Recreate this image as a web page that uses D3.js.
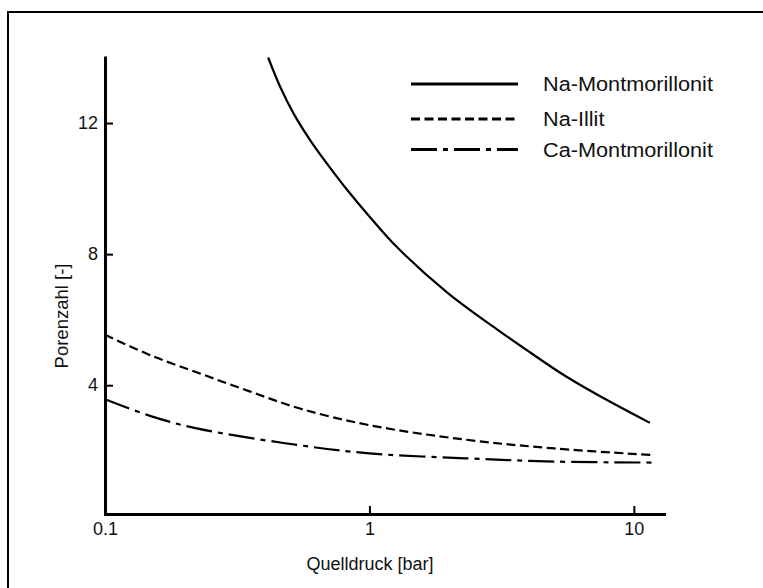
<!DOCTYPE html>
<html>
<head>
<meta charset="utf-8">
<script src="https://cdn.jsdelivr.net/npm/d3@7"></script>
<style>
  html, body { margin: 0; padding: 0; background: #fff; }
  svg { display: block; font-family: "Liberation Sans", Arial, sans-serif; }
</style>
</head>
<body>
<svg id="chart" width="763" height="588"></svg>
<script>
// ---- data ----
const seriesNames = ["Na-Montmorillonit", "Na-Illit", "Ca-Montmorillonit"];
const naMontP = [0.414, 0.46, 0.52, 0.6, 0.7, 0.82, 1.0, 1.276, 1.975, 3.055, 4.07, 5.43, 7.31, 11.5];
const naMontE = [14.0, 13.1, 12.25, 11.45, 10.7, 9.98, 9.15, 8.2, 6.82, 5.69, 4.99, 4.31, 3.70, 2.85];
const naIllitP = [0.1, 0.15, 0.23, 0.35, 0.55, 1.0, 2.3, 5.0, 11.7];
const naIllitE = [5.54, 4.9, 4.35, 3.82, 3.28, 2.78, 2.34, 2.07, 1.87];
const caMontP = [0.1, 0.15, 0.22, 0.48, 1.0, 2.3, 5.0, 11.8];
const caMontE = [3.57, 3.05, 2.69, 2.23, 1.92, 1.77, 1.67, 1.64];
const xTicks = [0.1, 1, 10];
const xTickLabels = ["0.1", "1", "10"];
const yTicks = [4, 8, 12];
const yTickLabels = ["4", "8", "12"];
const xTitle = "Quelldruck [bar]";
const yTitle = "Porenzahl [-]";

// ---- layout ----
const svg = d3.select("#chart");
const x = d3.scaleLog().domain([0.1, 13]).range([105, 664]);
const y = d3.scaleLinear().domain([0.07, 14.0]).range([514, 57.5]);

// outer frame (right/bottom edges lie outside the view)
svg.append("rect")
  .attr("x", 8).attr("y", 12).attr("width", 800).attr("height", 700)
  .attr("fill", "none").attr("stroke", "#000").attr("stroke-width", 2);

const series = [
  { name: seriesNames[0], p: naMontP, e: naMontE, dash: null },
  { name: seriesNames[1], p: naIllitP, e: naIllitE, dash: "9,4.5" },
  { name: seriesNames[2], p: caMontP, e: caMontE, dash: "26,6,5,6" }
];

const line = d3.line()
  .x(d => x(d[0])).y(d => y(d[1]))
  .curve(d3.curveCatmullRom.alpha(0.5));

series.forEach(s => {
  const pts = s.p.map((p, i) => [p, s.e[i]]);
  svg.append("path")
    .datum(pts)
    .attr("d", line)
    .attr("fill", "none")
    .attr("stroke", "#000")
    .attr("stroke-width", 2.2)
    .attr("stroke-dasharray", s.dash);
});

// axes
const xAxis = d3.axisBottom(x)
  .tickValues(xTicks)
  .tickFormat((d, i) => xTickLabels[i])
  .tickSizeInner(-8).tickSizeOuter(0).tickPadding(8);
const gx = svg.append("g").attr("transform", `translate(0,${y.range()[0]})`).call(xAxis);

const yAxis = d3.axisLeft(y)
  .tickValues(yTicks)
  .tickFormat((d, i) => yTickLabels[i])
  .tickSizeInner(-8).tickSizeOuter(0).tickPadding(7);
const gy = svg.append("g").attr("transform", `translate(${x.range()[0]},0)`).call(yAxis);

[gx, gy].forEach(g => {
  g.select(".domain").attr("stroke-width", 3).attr("stroke-linecap", "square");
  g.selectAll(".tick line").attr("stroke-width", 2);
  g.selectAll(".tick text")
    .attr("font-family", "Liberation Sans, Arial, sans-serif")
    .attr("font-size", 18).attr("fill", "#111");
});

// axis titles
svg.append("text")
  .attr("x", 370).attr("y", 570)
  .attr("text-anchor", "middle")
  .attr("font-size", 18).attr("fill", "#111")
  .text(xTitle);
svg.append("text")
  .attr("transform", "translate(68,316) rotate(-90)")
  .attr("text-anchor", "middle")
  .attr("font-size", 18.5).attr("fill", "#111")
  .text(yTitle);

// legend
const legY = [84, 119, 149.5];
series.forEach((s, i) => {
  svg.append("line")
    .attr("x1", 411).attr("x2", 518)
    .attr("y1", legY[i]).attr("y2", legY[i])
    .attr("stroke", "#000").attr("stroke-width", 3)
    .attr("stroke-dasharray", s.dash);
  svg.append("text")
    .attr("transform", `translate(543,${legY[i]}) scale(1.085,1)`)
    .attr("dy", "0.35em")
    .attr("font-size", 20).attr("fill", "#111")
    .text(s.name);
});
</script>
</body>
</html>
